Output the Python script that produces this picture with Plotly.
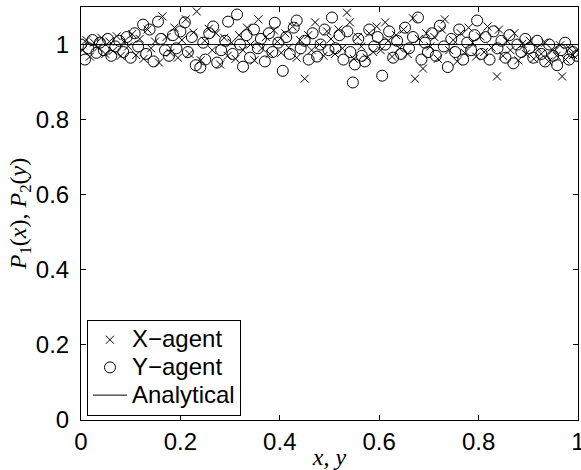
import plotly.graph_objects as go

# X-agent samples
xa_x = [0.003,0.011,0.018,0.026,0.034,0.041,0.049,0.057,0.064,0.072,0.080,0.088,0.095,
        0.103,0.111,0.118,0.126,0.134,0.141,0.149,0.157,0.164,0.172,0.180,0.188,0.195,
        0.203,0.211,0.218,0.226,0.233,0.241,0.249,0.257,0.264,0.272,0.280,0.288,0.295,
        0.303,0.311,0.318,0.326,0.334,0.341,0.349,0.357,0.364,0.372,0.380,0.388,0.395,
        0.403,0.411,0.418,0.426,0.434,0.441,0.450,0.457,0.464,0.471,0.480,0.488,0.495,
        0.503,0.511,0.518,0.526,0.535,0.541,0.549,0.557,0.564,0.575,0.580,0.588,0.595,
        0.603,0.612,0.618,0.626,0.634,0.641,0.649,0.657,0.668,0.672,0.680,0.688,0.695,
        0.703,0.711,0.718,0.726,0.732,0.741,0.749,0.757,0.764,0.772,0.780,0.788,0.795,
        0.803,0.811,0.818,0.826,0.837,0.841,0.849,0.857,0.864,0.872,0.880,0.888,0.895,
        0.903,0.911,0.918,0.926,0.934,0.941,0.949,0.957,0.964,0.968,0.975,0.983,0.990,0.997]
xa_y = [0.985,1.012,0.968,1.005,0.992,1.018,0.975,1.008,0.983,1.022,0.970,1.010,0.995,
        1.028,0.972,1.015,0.962,1.040,0.990,1.008,0.952,1.075,1.020,0.978,1.045,0.965,
        1.012,1.067,0.975,1.032,1.088,0.958,1.010,1.042,0.985,1.030,0.947,1.018,0.970,
        1.005,0.962,1.025,0.985,1.045,1.000,0.958,1.067,0.990,1.020,0.975,1.038,1.008,
        0.978,1.030,0.992,1.048,0.965,1.012,0.909,1.025,0.985,1.059,1.000,0.970,1.035,
        1.015,0.975,1.040,0.990,1.085,1.059,0.962,1.020,0.995,0.965,1.030,0.980,1.048,
        0.985,1.059,1.010,0.968,1.025,0.990,1.040,0.975,1.070,0.909,1.015,0.936,1.030,
        0.995,1.020,0.962,1.040,1.067,0.985,1.012,0.955,1.030,0.978,1.045,1.005,0.968,
        1.022,0.980,1.048,0.992,0.915,1.040,0.970,1.010,0.985,1.030,0.958,1.002,0.975,
        1.010,0.962,0.992,0.975,1.005,0.955,0.985,0.970,0.998,0.915,0.960,0.990,0.972,0.985]

# Y-agent samples
ya_x = [0.000,0.008,0.015,0.023,0.031,0.038,0.046,0.054,0.061,0.069,0.077,0.085,0.092,
        0.100,0.108,0.115,0.125,0.131,0.138,0.146,0.155,0.161,0.169,0.177,0.185,0.192,
        0.200,0.209,0.215,0.223,0.231,0.240,0.246,0.250,0.258,0.266,0.274,0.282,0.290,0.296,
        0.305,0.314,0.320,0.326,0.333,0.340,0.348,0.356,0.362,0.370,0.378,0.385,0.390,0.397,
        0.406,0.413,0.420,0.428,0.434,0.442,0.450,0.458,0.466,0.475,0.482,0.490,0.498,
        0.505,0.512,0.520,0.528,0.536,0.542,0.547,0.551,0.558,0.565,0.571,0.580,0.590,0.597,
        0.606,0.612,0.620,0.628,0.636,0.644,0.652,0.660,0.668,0.678,0.685,0.692,0.698,
        0.706,0.714,0.722,0.730,0.738,0.745,0.753,0.761,0.769,0.777,0.785,0.792,0.797,
        0.806,0.814,0.822,0.830,0.838,0.846,0.854,0.862,0.870,0.878,0.886,0.894,
        0.902,0.910,0.918,0.926,0.934,0.942,0.950,0.958,0.966,0.974,0.982,0.990,0.998]
ya_y = [1.000,0.960,0.990,1.012,0.978,1.005,0.985,1.015,0.970,0.995,1.010,0.980,1.020,
        0.965,1.030,0.995,1.053,0.975,1.040,0.955,1.061,1.015,0.985,0.970,1.025,0.990,
        1.035,1.059,0.980,1.020,0.945,0.939,1.005,0.960,1.030,1.048,0.952,0.985,1.010,1.061,
        0.975,1.080,1.000,0.941,1.025,0.965,1.040,0.990,1.015,0.955,1.030,0.980,1.058,1.005,
        0.930,1.020,0.975,1.045,1.064,0.990,1.010,0.960,1.030,0.968,1.000,1.040,0.985,
        1.072,0.990,1.025,0.960,1.035,0.980,0.899,0.947,1.015,0.970,0.955,1.040,0.995,1.020,
        0.917,1.000,1.035,0.965,1.010,0.975,1.045,0.990,1.020,1.072,0.960,1.005,0.980,
        1.030,0.970,1.050,0.995,0.940,1.015,0.980,1.040,0.960,1.005,0.985,1.025,1.064,
        0.975,1.020,0.960,1.035,0.990,1.010,0.965,1.025,0.950,1.000,0.980,1.015,
        0.990,0.965,1.010,0.975,0.955,1.000,0.970,0.945,0.985,1.005,0.960,0.980,0.970]

# Analytical solution
an_x = [0.0, 1.0]
an_y = [1.0, 1.0]

legend_names = ["X\u2212agent", "Y\u2212agent", "Analytical"]

def big(s):
    return '<span style="font-size:24px">' + s + '</span>'

fig = go.Figure()
fig.add_trace(go.Scatter(x=xa_x, y=xa_y, mode="markers", name=big(legend_names[0]),
                         marker=dict(symbol="x-thin-open", size=8, color="black",
                                     line=dict(color="black", width=1))))
fig.add_trace(go.Scatter(x=ya_x, y=ya_y, mode="markers", name=big(legend_names[1]),
                         marker=dict(symbol="circle-open", size=11, color="black",
                                     line=dict(color="black", width=1))))
fig.add_trace(go.Scatter(x=an_x, y=an_y, mode="lines", name=big(legend_names[2]),
                         line=dict(color="black", width=1)))

tick_font = dict(family="Liberation Sans, Arial", size=24, color="black")
title_font = dict(family="Liberation Serif, Times New Roman", size=24, color="black")
axis_common = dict(showline=True, linecolor="black", linewidth=1, mirror="ticks",
                   ticks="inside", ticklen=5, tickcolor="black", showgrid=False,
                   zeroline=False, tickfont=tick_font, automargin=False,
                   ticklabeloverflow="allow")

fig.update_layout(
    width=581, height=470,
    margin=dict(l=81, r=3, t=7, b=50),
    paper_bgcolor="white", plot_bgcolor="white",
    xaxis=dict(range=[0, 1], dtick=0.2, tick0=0, ticklabelstandoff=0,
               title=dict(text="<i>x</i>, <i>y</i>", standoff=0, font=title_font),
               **axis_common),
    yaxis=dict(range=[0, 1.1], dtick=0.2, tick0=0, ticklabelstandoff=6,
               title=dict(text="<i>P</i><sub>1</sub>(<i>x</i>), <i>P</i><sub>2</sub>(<i>y</i>)",
                          standoff=2, font=title_font),
               **axis_common),
    legend=dict(x=0.012, y=0.01, xanchor="left", yanchor="bottom",
                bgcolor="white", bordercolor="black", borderwidth=1,
                font=dict(family="Liberation Sans, Arial", size=19, color="black"),
                itemwidth=34, tracegroupgap=0),
    showlegend=True,
)

fig.write_html("out.html",
               config={"displayModeBar": False},
               post_script="document.body.style.margin='0';document.body.style.overflow='hidden';")
